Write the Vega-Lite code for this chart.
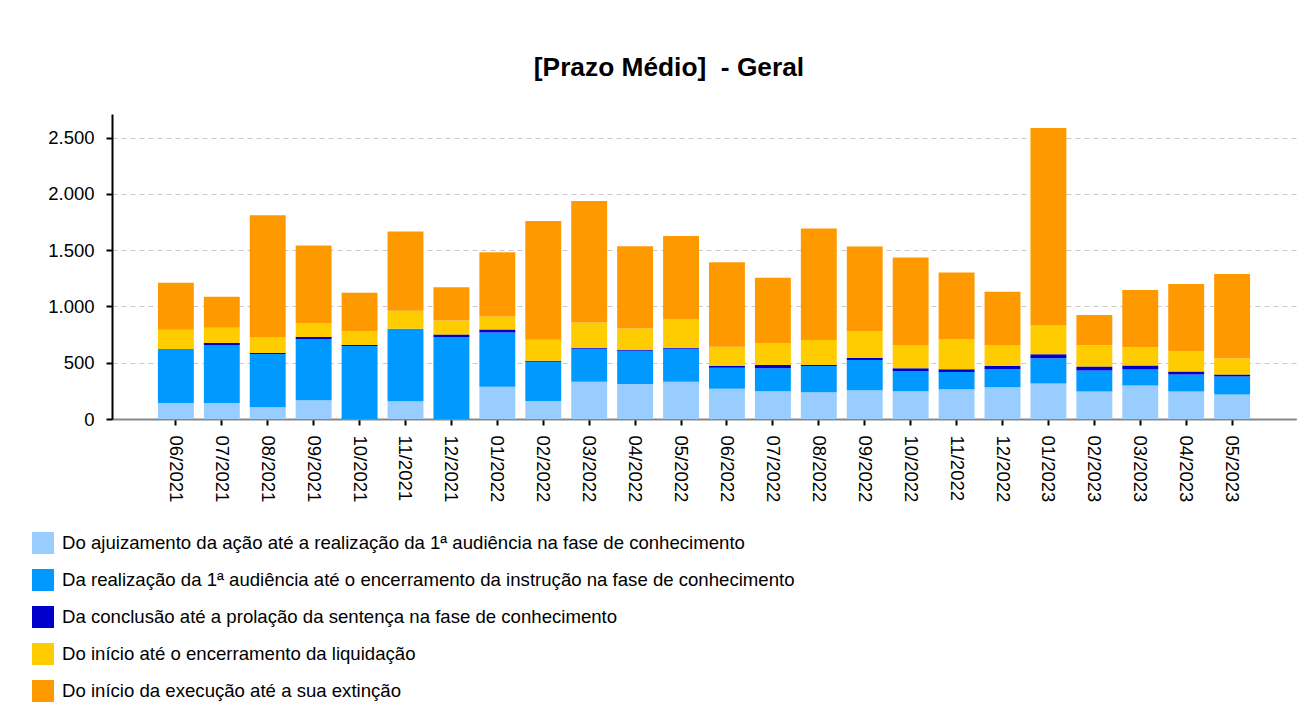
{
  "$schema": "https://vega.github.io/schema/vega-lite/v6.json",
  "autosize": "none",
  "width": 1184,
  "height": 305,
  "padding": {"left": 112, "top": 114, "right": 20, "bottom": 306},
  "background": "white",
  "title": {
    "text": "[Prazo Médio]\u00a0 - Geral",
    "font": "Liberation Sans",
    "fontSize": 26.3,
    "fontWeight": "bold",
    "color": "black",
    "anchor": "middle",
    "dx": -35,
    "baseline": "alphabetic",
    "offset": 12
  },
  "data": {
    "values": [
      {"m": "06/2021", "a": 143, "b": 479, "c": 0, "d": 170, "e": 419},
      {"m": "07/2021", "a": 143, "b": 515, "c": 18, "d": 134, "e": 276},
      {"m": "08/2021", "a": 104, "b": 473, "c": 9, "d": 143, "e": 1081},
      {"m": "09/2021", "a": 167, "b": 544, "c": 18, "d": 125, "e": 688},
      {"m": "10/2021", "a": 0, "b": 649, "c": 9, "d": 125, "e": 339},
      {"m": "11/2021", "a": 158, "b": 643, "c": 0, "d": 160, "e": 706},
      {"m": "12/2021", "a": 0, "b": 726, "c": 24, "d": 125, "e": 295},
      {"m": "01/2022", "a": 286, "b": 482, "c": 27, "d": 116, "e": 571},
      {"m": "02/2022", "a": 161, "b": 348, "c": 9, "d": 187, "e": 1054},
      {"m": "03/2022", "a": 330, "b": 295, "c": 9, "d": 223, "e": 1080},
      {"m": "04/2022", "a": 312, "b": 295, "c": 9, "d": 188, "e": 732},
      {"m": "05/2022", "a": 330, "b": 295, "c": 9, "d": 250, "e": 741},
      {"m": "06/2022", "a": 268, "b": 187, "c": 18, "d": 170, "e": 750},
      {"m": "07/2022", "a": 247, "b": 205, "c": 27, "d": 197, "e": 580},
      {"m": "08/2022", "a": 238, "b": 232, "c": 9, "d": 223, "e": 991},
      {"m": "09/2022", "a": 256, "b": 268, "c": 18, "d": 241, "e": 750},
      {"m": "10/2022", "a": 247, "b": 179, "c": 26, "d": 206, "e": 776},
      {"m": "11/2022", "a": 265, "b": 152, "c": 26, "d": 268, "e": 590},
      {"m": "12/2022", "a": 283, "b": 160, "c": 27, "d": 188, "e": 473},
      {"m": "01/2023", "a": 316, "b": 224, "c": 35, "d": 260, "e": 1750},
      {"m": "02/2023", "a": 244, "b": 188, "c": 35, "d": 188, "e": 268},
      {"m": "03/2023", "a": 298, "b": 142, "c": 36, "d": 161, "e": 509},
      {"m": "04/2023", "a": 244, "b": 152, "c": 27, "d": 178, "e": 598},
      {"m": "05/2023", "a": 217, "b": 161, "c": 18, "d": 143, "e": 750}
    ]
  },
  "transform": [
    {"fold": ["a", "b", "c", "d", "e"], "as": ["serie", "valor"]}
  ],
  "mark": {"type": "bar", "stroke": null},
  "encoding": {
    "x": {
      "field": "m",
      "type": "ordinal",
      "sort": null,
      "title": null,
      "scale": {"paddingInner": 0.218, "paddingOuter": 1.32},
      "axis": {
        "labelAngle": 90,
        "labelFont": "Liberation Sans",
        "labelFontSize": 18.5,
        "labelColor": "black",
        "labelPadding": 10,
        "tickColor": "black",
        "tickWidth": 2,
        "tickSize": 6,
        "domainColor": "#888888",
        "domainWidth": 2,
        "grid": false
      }
    },
    "y": {
      "field": "valor",
      "type": "quantitative",
      "stack": "zero",
      "title": null,
      "scale": {"domain": [0, 2710], "nice": false},
      "axis": {
        "values": [0, 500, 1000, 1500, 2000, 2500],
        "labelExpr": "replace(format(datum.value, ','), ',', '.')",
        "labelFont": "Liberation Sans",
        "labelFontSize": 18.5,
        "labelColor": "black",
        "labelPadding": 12,
        "tickColor": "black",
        "tickWidth": 2,
        "tickSize": 6,
        "domainColor": "black",
        "domainWidth": 2,
        "grid": true,
        "gridColor": {"condition": {"test": "datum.value === 0", "value": "black"}, "value": "#c8c8c8"},
        "gridDash": [5, 4],
        "gridWidth": 1
      }
    },
    "color": {
      "field": "serie",
      "type": "nominal",
      "scale": {
        "domain": ["a", "b", "c", "d", "e"],
        "range": ["#99CCFF", "#0099FF", "#0000CC", "#FFCC00", "#FF9900"]
      },
      "legend": {
        "orient": "none",
        "legendX": -80,
        "legendY": 418,
        "title": null,
        "direction": "vertical",
        "symbolType": "square",
        "symbolSize": 484,
        "symbolStrokeWidth": 0,
        "symbolOpacity": 1,
        "labelFont": "Liberation Sans",
        "labelFontSize": 18.6,
        "labelColor": "black",
        "labelOffset": 8,
        "labelLimit": 1000,
        "rowPadding": 15,
        "padding": 0,
        "labelExpr": "datum.label == 'a' ? 'Do ajuizamento da ação até a realização da 1ª audiência na fase de conhecimento' : datum.label == 'b' ? 'Da realização da 1ª audiência até o encerramento da instrução na fase de conhecimento' : datum.label == 'c' ? 'Da conclusão até a prolação da sentença na fase de conhecimento' : datum.label == 'd' ? 'Do início até o encerramento da liquidação' : 'Do início da execução até a sua extinção'"
      }
    },
    "order": {"field": "serie", "sort": "ascending"}
  },
  "config": {
    "view": {"stroke": null},
    "font": "Liberation Sans"
  }
}
